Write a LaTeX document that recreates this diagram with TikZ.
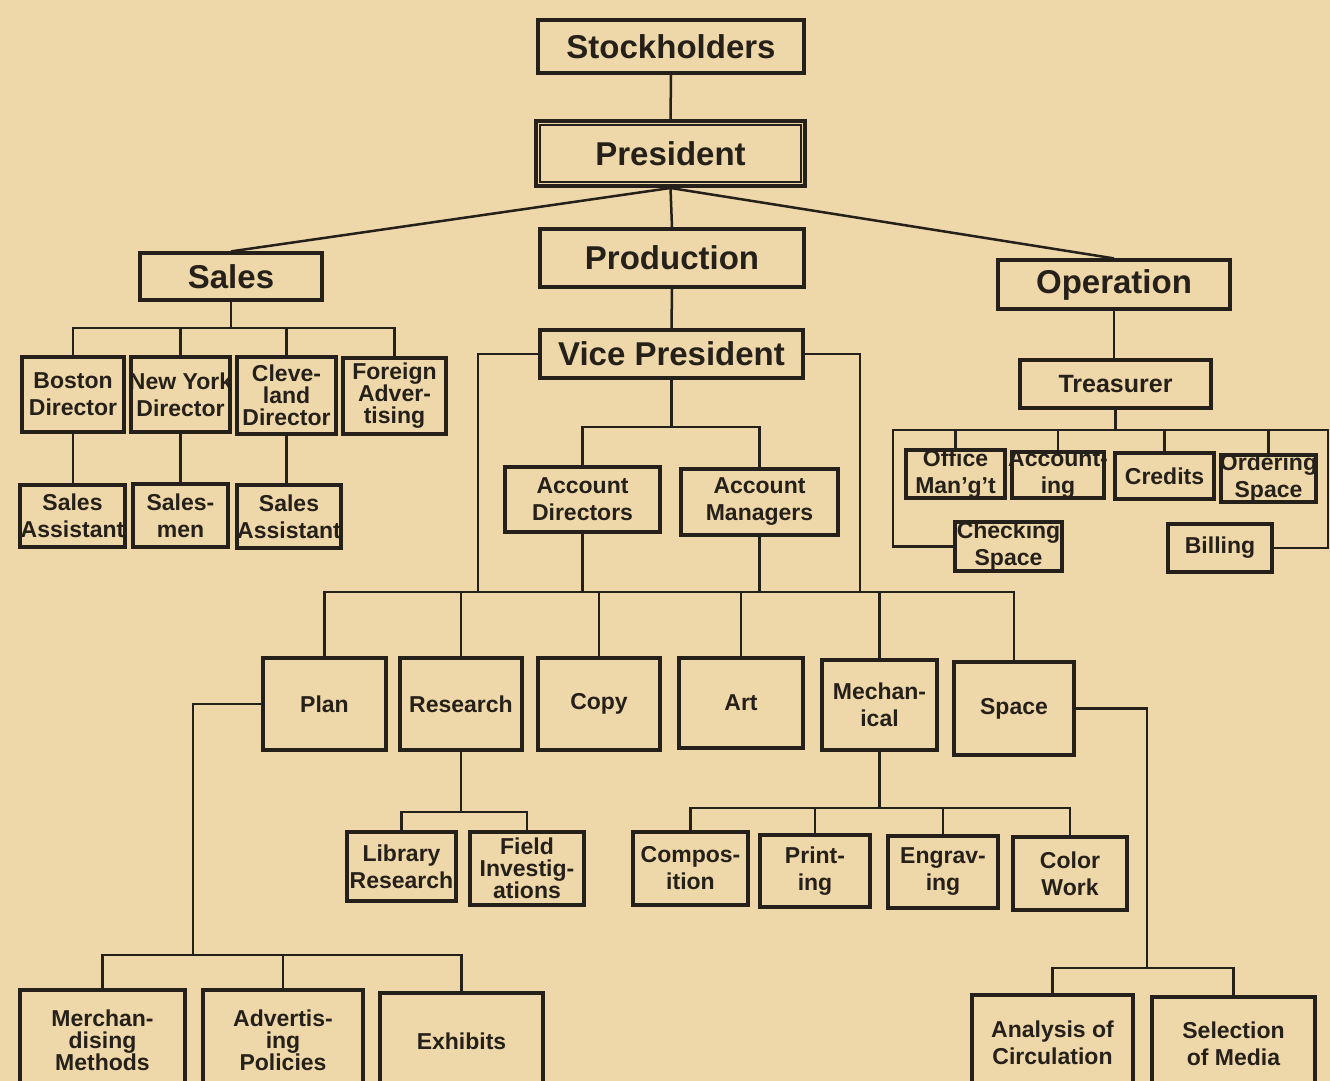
\documentclass[tikz,border=0pt]{standalone}
\usepackage{fontspec}
\setmainfont{Liberation Sans}
\definecolor{bg}{RGB}{238,215,168}
\definecolor{ink}{RGB}{38,32,26}
\newcommand\orgbox[6][lbl]{%
  \node[box, minimum width=#4pt, minimum height=#5pt] (#2) at (#3) {};
  \node[#1] (#2-t) at (#2.center) {#6};}
\begin{document}
\begin{tikzpicture}[x=1pt,y=-1pt,
  box/.style={draw=ink, line width=3.2pt, inner sep=0pt},
  lbl/.style={text=ink, inner sep=0pt, align=center, font=\fontsize{23}{27}\selectfont\bfseries},
  lblt/.style={lbl, font=\fontsize{23}{22}\selectfont\bfseries},
  lblm/.style={lbl, font=\fontsize{25}{30}\selectfont\bfseries},
  lblb/.style={lbl, font=\fontsize{33}{40}\selectfont\bfseries},
  conn/.style={draw=ink, line width=2.5pt}]
\fill[bg] (0,0) rectangle (1330,1081);
\clip (0,0) rectangle (1330,1081);

% top levels
\orgbox[lblb]{stock}{671,46.5}{266}{53}{Stockholders}
\node[box, line width=4pt, minimum width=269pt, minimum height=65pt] (pres) at (670.5,153.5) {};
\draw[ink, line width=2.4pt] ([shift={(6,6)}]pres.north west) rectangle ([shift={(-6,-6)}]pres.south east);
\node[lblb] (pres-t) at (pres.center) {President};
\orgbox[lblb]{prod}{672,258}{264}{58}{Production}
\orgbox[lblb]{sales}{231,276.5}{182}{47}{Sales}
\orgbox[lblb]{oper}{1114,284.5}{232}{49}{Operation}
\orgbox[lblb]{vp}{671.5,354}{263}{48}{Vice President}

% sales branch
\orgbox{boston}{73,394.5}{102}{75}{Boston\\Director}
\orgbox{ny}{180.5,394.5}{99}{75}{New York\\Director}
\orgbox[lblt]{cleve}{286.5,395.5}{99}{77}{Cleve-\\land\\Director}
\orgbox[lblt]{foreign}{394.5,396}{103}{76}{Foreign\\Adver-\\tising}
\orgbox{sa1}{72.5,516}{105}{62}{Sales\\Assistant}
\orgbox{salesmen}{180.5,515.5}{95}{63}{Sales-\\men}
\orgbox{sa2}{289,516.5}{104}{63}{Sales\\Assistant}

% operation branch
\orgbox[lblm]{treas}{1115.5,384}{191}{48}{Treasurer}
\orgbox{office}{955.5,474}{99}{48}{Office\\Man’g’t}
\orgbox{accounting}{1058,475}{92}{46}{Account-\\ing}
\orgbox{credits}{1164.5,476}{99}{46}{Credits}
\orgbox{ordering}{1268.5,478.5}{95}{47}{Ordering\\Space}
\orgbox{checking}{1008.5,546.5}{107}{49}{Checking\\Space}
\orgbox{billing}{1220,548}{104}{48}{Billing}

% production branch
\orgbox{ad}{582.5,499.5}{155}{65}{Account\\Directors}
\orgbox{am}{759.5,502}{157}{66}{Account\\Managers}
\orgbox{plan}{324.5,704}{123}{92}{Plan}
\orgbox{research}{461,704}{122}{92}{Research}
\orgbox{copy}{599,704}{122}{92}{Copy}
\orgbox{art}{741,703}{124}{90}{Art}
\orgbox{mech}{879.5,705}{115}{90}{Mechan-\\ical}
\orgbox{space}{1014,708.5}{120}{93}{Space}
\orgbox{library}{401.5,866.5}{109}{69}{Library\\Research}
\orgbox[lblt]{field}{527,868.5}{114}{73}{Field\\Investig-\\ations}
\orgbox{compos}{690.5,868.5}{115}{73}{Compos-\\ition}
\orgbox{print}{815,871}{110}{72}{Print-\\ing}
\orgbox{engrav}{943,872}{110}{72}{Engrav-\\ing}
\orgbox{color}{1070,873.5}{114}{73}{Color\\Work}
\orgbox[lblt]{merch}{102.5,1040}{165}{100}{Merchan-\\dising\\Methods}
\orgbox[lblt]{advpol}{283,1040}{160}{100}{Advertis-\\ing\\Policies}
\orgbox{exhibits}{461.5,1041.5}{163}{97}{Exhibits}
\orgbox{analysis}{1052.5,1042.5}{161}{95}{Analysis of\\Circulation}
\orgbox{selection}{1233.5,1043.5}{163}{93}{Selection\\of Media}

% bus coordinates
\coordinate (sbus) at (231,328);
\coordinate (tbus) at (1115.5,430);
\coordinate (tl) at (893,430);
\coordinate (tr) at (1328,430);
\coordinate (vbus) at (671.5,427);
\coordinate (mbus) at (670,592);
\coordinate (vpl) at (478,592);
\coordinate (vpr) at (860,592);
\coordinate (rbus) at (461,812);
\coordinate (mebus) at (879.5,808);
\coordinate (pbus) at (193,955);
\coordinate (spbus) at (1147,968);

% connectors: top
\draw[conn] (stock.south) -- (pres.north);
\draw[conn] (pres.south) -- (sales.north);
\draw[conn] (pres.south) -- (oper.north);
\draw[conn] (pres.south) -- (prod.north);
\draw[conn] (prod.south) -- (vp.north);

% sales
\draw[conn] (sales.south) -- (sbus);
\draw[conn] (boston.north) |- (sbus) -| (foreign.north);
\draw[conn] (ny.north) -- (ny.north |- sbus);
\draw[conn] (cleve.north) -- (cleve.north |- sbus);
\draw[conn] (boston.south) -- (boston.south |- sa1.north);
\draw[conn] (ny.south) -- (ny.south |- salesmen.north);
\draw[conn] (cleve.south) -- (cleve.south |- sa2.north);

% operation
\draw[conn] (oper.south) -- (oper.south |- treas.north);
\draw[conn] (treas.south) -- (tbus);
\draw[conn] (checking.west) -| (tl) -- (tr) |- (billing.east);
\draw[conn] (office.north) -- (office.north |- tbus);
\draw[conn] (accounting.north) -- (accounting.north |- tbus);
\draw[conn] (credits.north) -- (credits.north |- tbus);
\draw[conn] (ordering.north) -- (ordering.north |- tbus);

% vice president
\draw[conn] (vp.south) -- (vbus);
\draw[conn] (ad.north) |- (vbus) -| (am.north);
\draw[conn] (vp.west) -| (vpl);
\draw[conn] (vp.east) -| (vpr);
\draw[conn] (ad.south) -- (ad.south |- mbus);
\draw[conn] (am.south) -- (am.south |- mbus);
\draw[conn] (plan.north) |- (mbus) -| (space.north);
\draw[conn] (research.north) -- (research.north |- mbus);
\draw[conn] (copy.north) -- (copy.north |- mbus);
\draw[conn] (art.north) -- (art.north |- mbus);
\draw[conn] (mech.north) -- (mech.north |- mbus);

% research
\draw[conn] (research.south) -- (rbus);
\draw[conn] (library.north) |- (rbus) -| (field.north);

% mechanical
\draw[conn] (mech.south) -- (mebus);
\draw[conn] (compos.north) |- (mebus) -| (color.north);
\draw[conn] (print.north) -- (print.north |- mebus);
\draw[conn] (engrav.north) -- (engrav.north |- mebus);

% plan
\draw[conn] (plan.west) -| (pbus);
\draw[conn] (merch.north) |- (pbus) -| (exhibits.north);
\draw[conn] (advpol.north) -- (advpol.north |- pbus);

% space
\draw[conn] (space.east) -| (spbus);
\draw[conn] (analysis.north) |- (spbus) -| (selection.north);
\end{tikzpicture}
\end{document}
